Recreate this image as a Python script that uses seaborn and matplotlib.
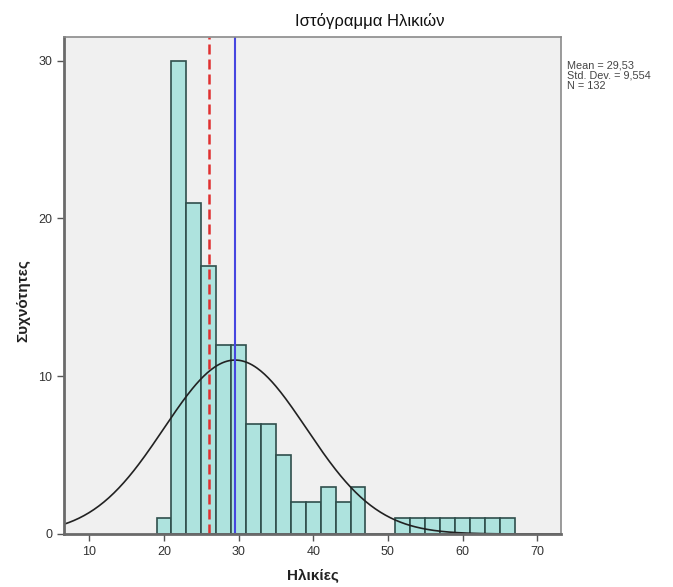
import numpy as np
import pandas as pd
import matplotlib
matplotlib.use("Agg")
import matplotlib.pyplot as plt
import seaborn as sns

# Age histogram: 2-year bins and their frequencies
bin_edges = list(range(19, 69, 2))
counts = [1, 30, 21, 17, 12, 12, 7, 7, 5, 2, 2, 3, 2, 3, 0, 0,
          1, 1, 1, 1, 1, 1, 1, 1]
mean_age = 29.53
std_age = 9.554
n_total = 132
median_age = 26

x_ticks = [10, 20, 30, 40, 50, 60, 70]
y_ticks = [0, 10, 20, 30]

sns.set_theme(style="white")
plt.rcParams["font.family"] = ["Liberation Sans", "DejaVu Sans"]

centers = [(a + b) / 2 for a, b in zip(bin_edges[:-1], bin_edges[1:])]
df = pd.DataFrame({"age": centers, "freq": counts})

fig = plt.figure(figsize=(6.73, 5.87), dpi=100)
ax = fig.add_axes([0.0951, 0.0903, 0.7385, 0.8467])
ax.set_facecolor("#f0f0f0")

sns.histplot(data=df, x="age", weights="freq", bins=bin_edges,
             color="#aee3de", alpha=1.0, edgecolor="#2f4f4c",
             linewidth=1.2, ax=ax)

xmin, xmax = 6.6, 73.2
# Fitted normal curve scaled to counts per bin
xs = np.linspace(xmin, xmax, 400)
bw = bin_edges[1] - bin_edges[0]
ys = n_total * bw / (std_age * np.sqrt(2 * np.pi)) * np.exp(-0.5 * ((xs - mean_age) / std_age) ** 2)
sns.lineplot(x=xs, y=ys, color="#222222", linewidth=1.2, ax=ax)

ax.axvline(median_age, color="#e03030", linestyle=(0, (4, 2)), linewidth=1.8)
ax.axvline(mean_age, color="#4646e0", linewidth=1.5)

ax.set_xlim(xmin, xmax)
ax.set_ylim(0, 31.5)
ax.set_xticks(x_ticks)
ax.set_yticks(y_ticks)
ax.tick_params(axis="both", which="both", direction="out", length=5, width=1,
               color="#555555", labelsize=9, labelcolor="#333333",
               bottom=True, left=True)

for side in ["top", "right"]:
    ax.spines[side].set_color("#8a8a8a")
    ax.spines[side].set_linewidth(1.2)
for side in ["left", "bottom"]:
    ax.spines[side].set_color("#6a6a6a")
    ax.spines[side].set_linewidth(2.0)

ax.set_xlabel("Ηλικίες", fontsize=11, fontweight="bold", color="#222222")
ax.set_ylabel("Συχνότητες", fontsize=11, fontweight="bold", color="#222222")
ax.xaxis.set_label_coords(0.5, -0.07)
ax.yaxis.set_label_coords(-0.068, 0.47)

fig.text(0.55, 0.964, "Ιστόγραμμα Ηλικιών", fontsize=12, ha="center", va="center",
         color="#111111")
fig.text(0.843, 0.897,
         f"Mean = {mean_age:.2f}".replace(".", ",") + "\n"
         + f"Std. Dev. = {std_age:.3f}".replace("Dev,", "Dev.").replace(".554", ",554") + "\n"
         + f"N = {n_total}",
         fontsize=7.8, ha="left", va="top", color="#444444", linespacing=1.05)

fig.savefig("out.png", dpi=100, facecolor="white")
